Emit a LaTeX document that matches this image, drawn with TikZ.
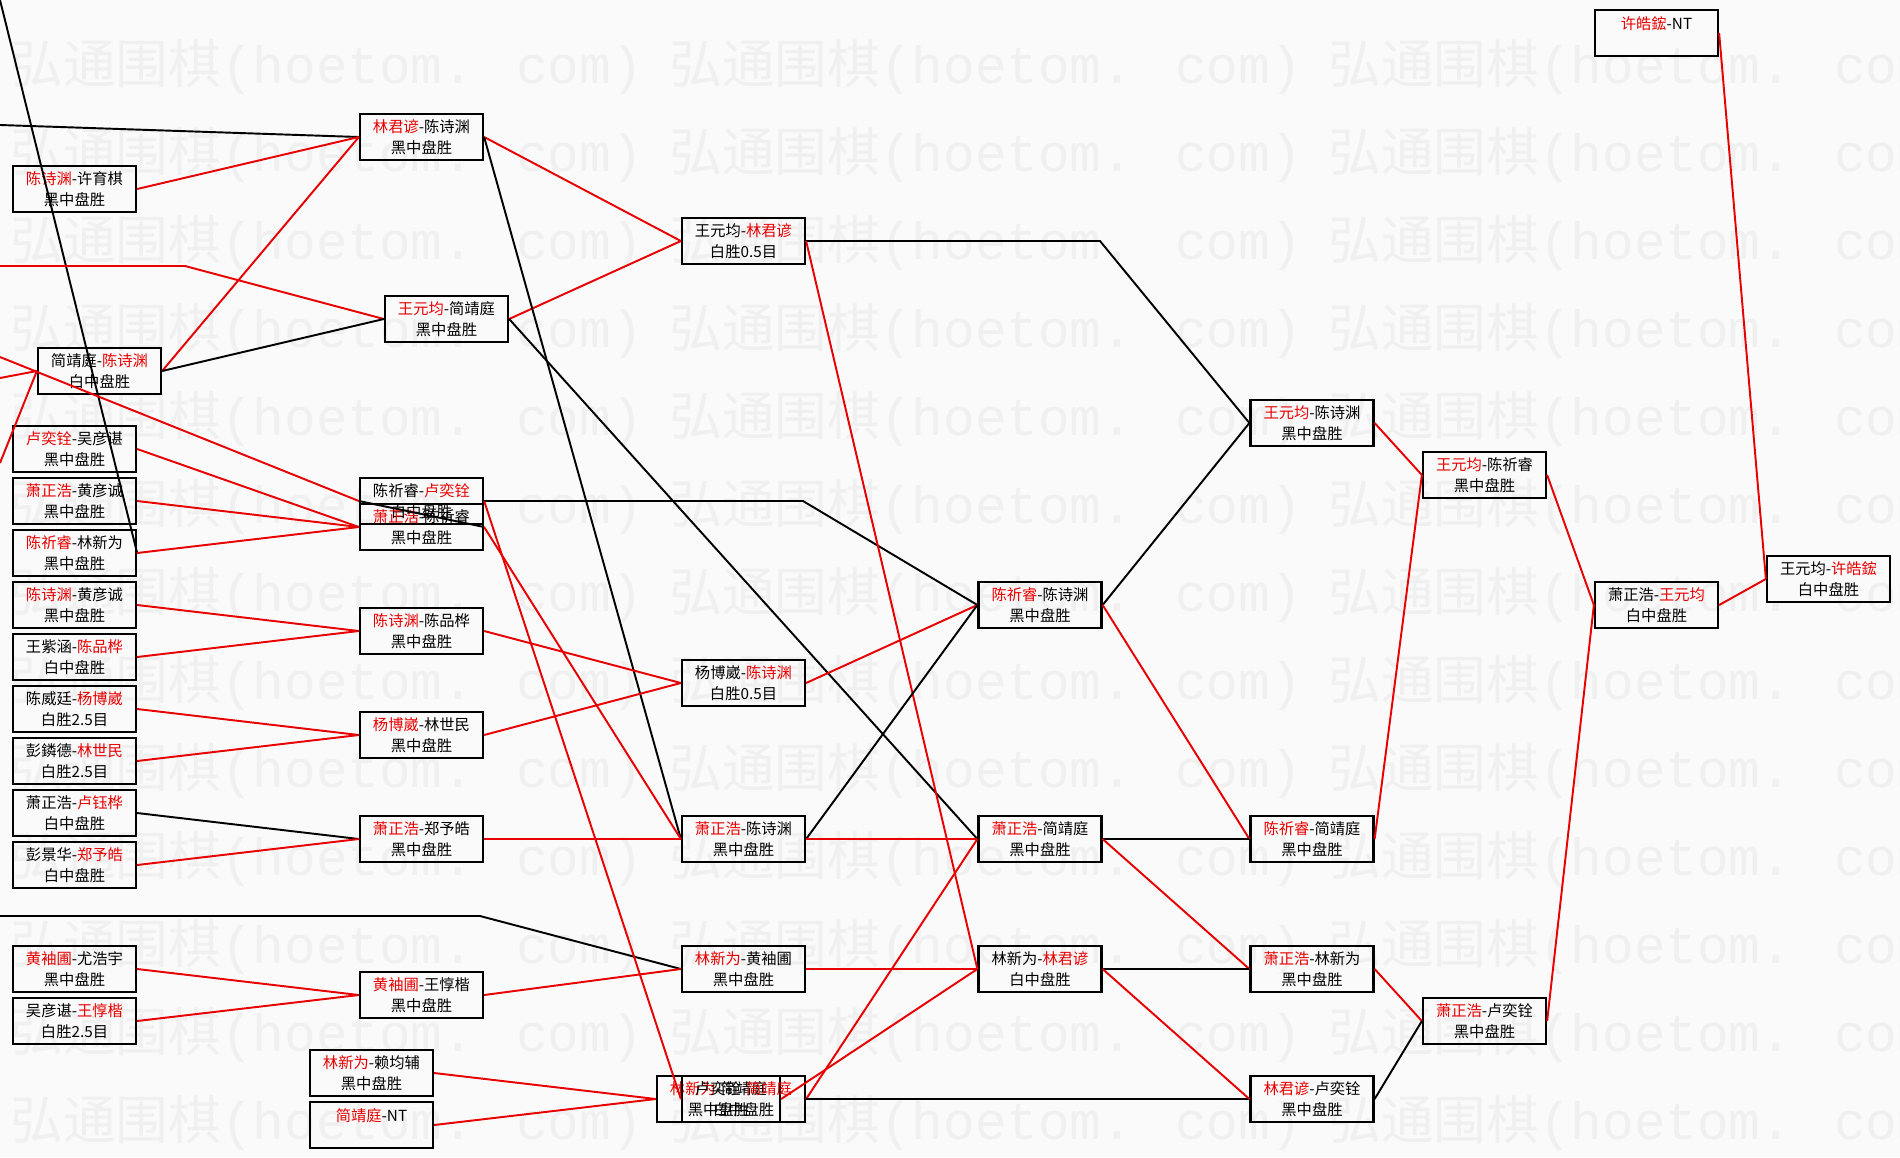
\documentclass[tikz,border=0pt]{standalone}
\usepackage{fontspec}
\usepackage{xcolor}
\usepackage{tikz}
\usetikzlibrary{positioning}
\newfontfamily\cjk{Noto Sans CJK SC}
\newfontfamily\wmlatin{Liberation Mono}
\definecolor{winred}{RGB}{232,0,0}
\definecolor{paper}{RGB}{250,250,250}
\definecolor{wmgray}{RGB}{240,240,240}
\newcommand{\wn}[1]{\textcolor{winred}{#1}}
\tikzset{
    game/.style={
        rectangle, draw=black, line width=1.3pt,
        minimum width=2.46cm, minimum height=0.92cm, inner sep=0pt,
        align=center, font=\cjk\fontsize{8.7}{11.9}\selectfont
    },
    win/.style={draw=winred, line width=1.1pt},
    lose/.style={draw=black, line width=1.1pt},
    wmtext/.style={anchor=west, inner sep=0pt, text=wmgray,
        font=\cjk\fontsize{30}{30}\selectfont}
}

\begin{document}
\begin{tikzpicture}[x=0.02cm, y=-0.02cm]

%% page and watermark
\fill[paper] (0,0) rectangle (1900,1157);
\useasboundingbox (0,0) rectangle (1900,1157);
\begin{scope}
\clip (0,0) rectangle (1900,1157);
\foreach \r in {0,...,12}
    \foreach \c in {10,669,1328}
        \node[wmtext] at (\c,{67+88*\r}) {弘通围棋{\wmlatin(hoetom. com)}};
\end{scope}

%% round 1 -- left column, x=74.5
\node[game] (csxy) at (74.5,189)  {\wn{陈诗渊}-许育棋\\黑中盘胜};
\node[game] (jjcs) at (99.5,371)  {简靖庭-\wn{陈诗渊}\\白中盘胜};
\node[game] (lywy) at (74.5,449)  {\wn{卢奕铨}-吴彦谌\\黑中盘胜};
\node[game] (xzhy) at (74.5,501)  {\wn{萧正浩}-黄彦诚\\黑中盘胜};
\node[game] (cqlx) at (74.5,553)  {\wn{陈祈睿}-林新为\\黑中盘胜};
\node[game] (cshy) at (74.5,605)  {\wn{陈诗渊}-黄彦诚\\黑中盘胜};
\node[game] (wzcp) at (74.5,657)  {王紫涵-\wn{陈品桦}\\白中盘胜};
\node[game] (cwyb) at (74.5,709)  {陈威廷-\wn{杨博崴}\\白胜2.5目};
\node[game] (plls) at (74.5,761)  {彭鏻德-\wn{林世民}\\白胜2.5目};
\node[game] (xzlh) at (74.5,813)  {萧正浩-\wn{卢钰桦}\\白中盘胜};
\node[game] (pjzy) at (74.5,865)  {彭景华-\wn{郑予皓}\\白中盘胜};
\node[game] (hxyh) at (74.5,969)  {\wn{黄袖圃}-尤浩宇\\黑中盘胜};
\node[game] (wywd) at (74.5,1021) {吴彦谌-\wn{王惇楷}\\白胜2.5目};

%% round 2 -- x=421.5
\node[game] (ljcs) at (421.5,137)  {\wn{林君谚}-陈诗渊\\黑中盘胜};
\node[game] (wyjj) at (446.5,319)  {\wn{王元均}-简靖庭\\黑中盘胜};
\node[game] (cqly) at (421.5,501)  {陈祈睿-\wn{卢奕铨}\\白中盘胜};
\node[game] (xzcq) at (421.5,527)  {\wn{萧正浩}-陈祈睿\\黑中盘胜};
\node[game] (cscp) at (421.5,631)  {\wn{陈诗渊}-陈品桦\\黑中盘胜};
\node[game] (ybls) at (421.5,735)  {\wn{杨博崴}-林世民\\黑中盘胜};
\node[game] (xzzy) at (421.5,839)  {\wn{萧正浩}-郑予皓\\黑中盘胜};
\node[game] (hxwd) at (421.5,995)  {\wn{黄袖圃}-王惇楷\\黑中盘胜};
\node[game] (lxlf) at (371.5,1073) {\wn{林新为}-赖均辅\\黑中盘胜};
\node[game] (jjnt) at (371.5,1125) {\wn{简靖庭}-NT\\\mbox{}};

%% round 3 -- x=743.5
\node[game] (wylj) at (743.5,241)  {王元均-\wn{林君谚}\\白胜0.5目};
\node[game] (ybcs) at (743.5,683)  {杨博崴-\wn{陈诗渊}\\白胜0.5目};
\node[game] (xzcs) at (743.5,839)  {\wn{萧正浩}-陈诗渊\\黑中盘胜};
\node[game] (lxhx) at (743.5,969)  {\wn{林新为}-黄袖圃\\黑中盘胜};
\node[game] (lxjj) at (718.5,1099) {\wn{林新为}-简靖庭\\黑中盘胜};
\node[game] (lyjj) at (743.5,1099) {卢奕铨-\wn{简靖庭}\\白中盘胜};

%% round 4 -- x=1040
\node[game] (cqcs) at (1040,605) {\wn{陈祈睿}-陈诗渊\\黑中盘胜};
\node[game] (xzjj) at (1040,839) {\wn{萧正浩}-简靖庭\\黑中盘胜};
\node[game] (lxlj) at (1040,969) {林新为-\wn{林君谚}\\白中盘胜};

%% round 5 -- x=1312
\node[game] (wycs) at (1312,423)  {\wn{王元均}-陈诗渊\\黑中盘胜};
\node[game] (cqjj) at (1312,839)  {\wn{陈祈睿}-简靖庭\\黑中盘胜};
\node[game] (xzlx) at (1312,969)  {\wn{萧正浩}-林新为\\黑中盘胜};
\node[game] (ljly) at (1312,1099) {\wn{林君谚}-卢奕铨\\黑中盘胜};

%% rounds 6 to 8
\node[game] (wycq)  at (1484.5,475)  {\wn{王元均}-陈祈睿\\黑中盘胜};
\node[game] (xzly)  at (1484.5,1021) {\wn{萧正浩}-卢奕铨\\黑中盘胜};
\node[game] (xhnt)  at (1656.5,33)   {\wn{许皓鋐}-NT\\\mbox{}};
\node[game] (xzwy)  at (1656.5,605)  {萧正浩-\wn{王元均}\\白中盘胜};
\node[game] (final) at (1828.5,579)  {王元均-\wn{许皓鋐}\\白中盘胜};

%% lines coming in from the left edge
\coordinate (inA) at (0,0);
\coordinate (inB) at (0,125);
\coordinate (inC) at (0,266);
\coordinate (bendC) at (185,266);
\coordinate (inD) at (0,357);
\coordinate (inE) at (0,378);
\coordinate (inF) at (0,463);
\coordinate (inG) at (0,916);
\coordinate (bendG) at (480,916);
\draw[lose] (inA) -- (cqlx.east);
\draw[lose] (inB) -- (ljcs.west);
\draw[win]  (inC) -- (bendC) -- (wyjj.west);
\draw[win]  (inD) -- (cqly.west);
\draw[win]  (inE) -- (jjcs.west);
\draw[win]  (inF) -- (jjcs.west);
\draw[lose] (inG) -- (bendG) -- (lxhx.west);

%% round 1 -> round 2
\draw[win]  (csxy.east) -- (ljcs.west);
\draw[win]  (jjcs.east) -- (ljcs.west);
\draw[lose] (jjcs.east) -- (wyjj.west);
\draw[win]  (lywy.east) -- (xzcq.west);
\draw[win]  (xzhy.east) -- (xzcq.west);
\draw[win]  (cqlx.east) -- (xzcq.west);
\draw[lose] (cqly.west) -- (xzcq.east);
\draw[win]  (cshy.east) -- (cscp.west);
\draw[win]  (wzcp.east) -- (cscp.west);
\draw[win]  (cwyb.east) -- (ybls.west);
\draw[win]  (plls.east) -- (ybls.west);
\draw[lose] (xzlh.east) -- (xzzy.west);
\draw[win]  (pjzy.east) -- (xzzy.west);
\draw[win]  (hxyh.east) -- (hxwd.west);
\draw[win]  (wywd.east) -- (hxwd.west);

%% round 2 -> round 3
\coordinate (bendQ) at (803,501);
\draw[win]  (ljcs.east) -- (wylj.west);
\draw[win]  (wyjj.east) -- (wylj.west);
\draw[lose] (ljcs.east) -- (xzcs.west);
\draw[lose] (wyjj.east) -- (xzjj.west);
\draw[lose] (cqly.east) -- (bendQ) -- (cqcs.west);
\draw[win]  (cqly.east) -- (lyjj.west);
\draw[win]  (xzcq.east) -- (xzcs.west);
\draw[win]  (cscp.east) -- (ybcs.west);
\draw[win]  (ybls.east) -- (ybcs.west);
\draw[win]  (xzzy.east) -- (xzcs.west);
\draw[win]  (hxwd.east) -- (lxhx.west);
\draw[win]  (lxlf.east) -- (lxjj.west);
\draw[win]  (jjnt.east) -- (lxjj.west);

%% round 3 -> round 4
\coordinate (bendW) at (1100,241);
\draw[lose] (wylj.east) -- (bendW) -- (wycs.west);
\draw[win]  (wylj.east) -- (lxlj.west);
\draw[win]  (ybcs.east) -- (cqcs.west);
\draw[lose] (xzcs.east) -- (cqcs.west);
\draw[win]  (xzcs.east) -- (xzjj.west);
\draw[win]  (lxhx.east) -- (lxlj.west);
\draw[win]  (lxjj.east) -- (lxlj.west);
\draw[win]  (lyjj.east) -- (xzjj.west);
\draw[lose] (lyjj.east) -- (ljly.west);

%% round 4 -> round 5
\draw[lose] (cqcs.east) -- (wycs.west);
\draw[win]  (cqcs.east) -- (cqjj.west);
\draw[lose] (xzjj.east) -- (cqjj.west);
\draw[win]  (xzjj.east) -- (xzlx.west);
\draw[lose] (lxlj.east) -- (xzlx.west);
\draw[win]  (lxlj.east) -- (ljly.west);

%% round 5 -> final
\draw[win]  (wycs.east) -- (wycq.west);
\draw[win]  (cqjj.east) -- (wycq.west);
\draw[win]  (xzlx.east) -- (xzly.west);
\draw[lose] (ljly.east) -- (xzly.west);
\draw[win]  (wycq.east) -- (xzwy.west);
\draw[win]  (xzly.east) -- (xzwy.west);
\draw[win]  (xzwy.east) -- (final.west);
\draw[win]  (xhnt.east) -- (final.west);

\end{tikzpicture}
\end{document}
